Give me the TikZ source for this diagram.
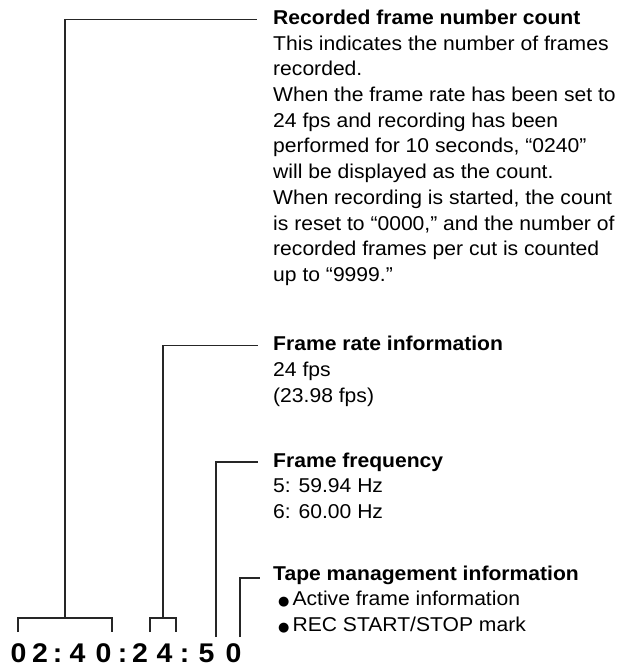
\documentclass[tikz,border=0pt]{standalone}
\usepackage{fontspec}
\setmainfont[FakeStretch=1.055]{Liberation Sans}
\newfontfamily\symfont{DejaVu Sans}
\usepackage{tikz}
\usetikzlibrary{positioning, calc}

\tikzset{
  lead/.style={line width=1.1pt, black!85},
  infotitle/.style={anchor=base west, inner sep=0pt, font=\fontsize{20}{25.7}\selectfont\bfseries},
  infobody/.style={anchor=north west, inner sep=0pt, align=left, font=\fontsize{20}{25.7}\selectfont},
  digit/.style={anchor=base, inner sep=0pt, font=\fontsize{27}{30}\selectfont\bfseries}
}
\newcommand{\blt}{{\symfont\fontsize{13}{13}\selectfont ●}\hspace{3pt}}

\begin{document}
\begin{tikzpicture}[x=1pt, y=-1pt]
  \useasboundingbox (0,0) rectangle (621,669);

  % time code
  \foreach \dx/\ch [count=\i] in {18.5/0, 40/2, 57.5/:, 77.5/4, 103.5/0, 122.5/:, 140/2, 164.5/4, 184.5/:, 206.5/5, 233.5/0}
    \node[digit] (d\i) at (\dx, 662) {\ch};

  % text blocks (body tops = first baseline - strut height)
  \node[infotitle] (cnttitle) at (273, 24.3) {Recorded frame number count};
  \node[infobody] (cntbody) at (273, 32) {\strut This indicates the number of frames\\
    recorded.\\
    When the frame rate has been set to\\
    24 fps and recording has been\\
    performed for 10 seconds, “0240”\\
    will be displayed as the count.\\
    When recording is started, the count\\
    is reset to “0000,” and the number of\\
    recorded frames per cut is counted\\
    up to “9999.”};

  \node[infotitle] (ratetitle) at (273, 350.5) {Frame rate information};
  \node[infobody] (ratebody) at (273, 358.2) {\strut 24 fps\\(23.98 fps)};

  \node[infotitle] (freqtitle) at (273, 467) {Frame frequency};
  \node[infobody] (freqbody) at (273, 474.7) {\strut 5: 59.94 Hz\\6: 60.00 Hz};

  \node[infotitle] (tapetitle) at (273, 580) {Tape management information};
  \node[infobody] (tapebody) at (278, 587.7) {\strut\blt Active frame information\\\blt REC START/STOP mark};

  % line ends
  \coordinate (cntend) at ([xshift=-16pt, yshift=5pt]cnttitle.base west);
  \coordinate (rateend) at ([xshift=-15pt, yshift=5pt]ratetitle.base west);
  \coordinate (freqend) at ([xshift=-15pt, yshift=5pt]freqtitle.base west);
  \coordinate (tapeend) at ([xshift=-13pt, yshift=2pt]tapetitle.base west);

  \coordinate (cntfoot) at (65, 618);
  \coordinate (ratefoot) at (163, 618);
  \coordinate (freqfoot) at (216, 637);
  \coordinate (tapefoot) at (240, 637);

  % brackets
  \draw[lead] (18, 632) |- (112, 618) -- (112, 632);
  \draw[lead] (150, 632) |- (176, 618) -- (176, 632);

  \draw[lead] (cntfoot) |- (cntend);
  \draw[lead] (ratefoot) |- (rateend);
  \draw[lead] (freqfoot) |- (freqend);
  \draw[lead] (tapefoot) |- (tapeend);
\end{tikzpicture}
\end{document}
